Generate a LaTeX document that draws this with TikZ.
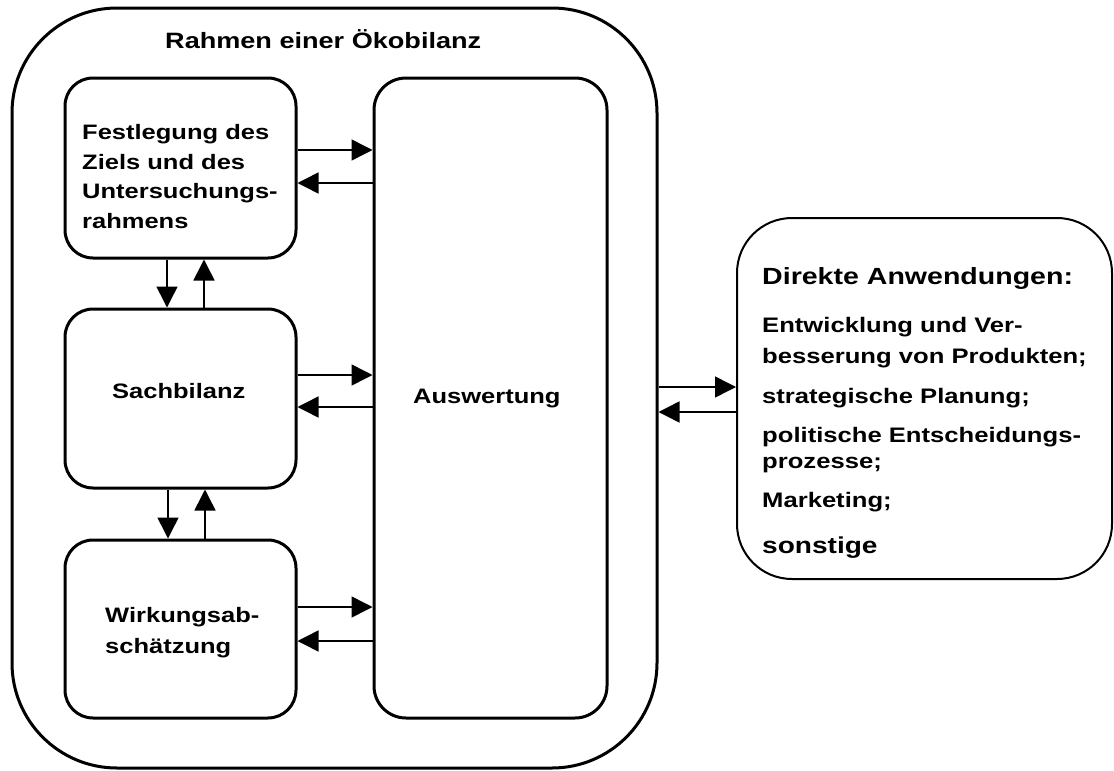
\documentclass[tikz,border=0pt]{standalone}
\usepackage{fontspec}
\setmainfont{Liberation Sans}[FakeStretch=1.22]
\usetikzlibrary{arrows.meta}
\tikzset{
	rahmenbox/.style={draw,line width=3pt,rounded corners=105pt,minimum width=645pt,minimum height=760pt,inner sep=0pt},
	stagebox/.style={draw,line width=3pt,rounded corners=28pt,minimum width=231pt,inner sep=0pt},
	appbox/.style={draw,line width=2pt,rounded corners=55pt,minimum width=375pt,minimum height=361pt,inner sep=0pt},
	boxtext/.style={inner sep=0pt,anchor=base west,align=left,font=\bfseries\fontsize{20.9}{29.5}\selectfont},
	apptext/.style={inner sep=0pt,anchor=base west,align=left,font=\bfseries\fontsize{21}{31}\selectfont},
	flow/.style={line width=1.5pt,-{Triangle[length=21pt,width=21pt]}}
}
\begin{document}
\begin{tikzpicture}[x=1pt,y=-1pt]
			\useasboundingbox (0,0) rectangle (1114,771);
			\node[rahmenbox] (rahmen) at (334.5,388) {};
			\node[inner sep=0pt,anchor=base west,font=\bfseries\fontsize{22.2}{26}\selectfont] (titel) at (165,48) {Rahmen einer Ökobilanz};
			\node[stagebox,minimum height=180pt] (ziel) at (180.5,168) {};
			\node[stagebox,minimum height=179pt] (sach) at (180.5,398.5) {};
			\node[stagebox,minimum height=178pt] (wirk) at (180.5,629) {};
			\node[stagebox,rounded corners=32pt,minimum width=233pt,minimum height=640pt] (aus) at (490.5,398) {};
			\node[appbox] (anw) at (924.5,398.5) {};
			% multi-line texts: base anchor sits on the last line
			\node[boxtext] (zieltext) at (82,228) {Festlegung des\\Ziels und des\\Untersuchungs-\\rahmens};
			\node[boxtext] (sachtext) at (112,398) {Sachbilanz};
			\node[boxtext,font=\bfseries\fontsize{20.9}{31}\selectfont] (wirktext) at (105,653) {Wirkungsab-\\schätzung};
			\node[boxtext] (austext) at (413,403) {Auswertung};
			\node[apptext,font=\bfseries\fontsize{23.4}{28}\selectfont] (anw1) at (762,284) {Direkte Anwendungen:};
			\node[apptext] (anw2) at (762,363) {Entwicklung und Ver-\\besserung von Produkten;};
			\node[apptext] (anw3) at (762,403) {strategische Planung;};
			\node[apptext,font=\bfseries\fontsize{21}{26}\selectfont] (anw4) at (762,468) {politische Entscheidungs-\\prozesse;};
			\node[apptext] (anw5) at (762,507) {Marketing;};
			\node[apptext,font=\bfseries\fontsize{23}{28}\selectfont] (anw6) at (762,553) {sonstige};
			\draw[flow] (ziel.east |- 0,150) -- (aus.west |- 0,150);
			\draw[flow] (aus.west |- 0,183) -- (ziel.east |- 0,183);
			\draw[flow] (sach.east |- 0,375) -- (aus.west |- 0,375);
			\draw[flow] (aus.west |- 0,407) -- (sach.east |- 0,407);
			\draw[flow] (wirk.east |- 0,607) -- (aus.west |- 0,607);
			\draw[flow] (aus.west |- 0,641) -- (wirk.east |- 0,641);
			\draw[flow] (ziel.south -| 167,0) -- (sach.north -| 167,0);
			\draw[flow] (sach.north -| 204,0) -- (ziel.south -| 204,0);
			\draw[flow] (sach.south -| 168,0) -- (wirk.north -| 168,0);
			\draw[flow] (wirk.north -| 205,0) -- (sach.south -| 205,0);
			\draw[flow] (rahmen.east |- 0,387) -- (anw.west |- 0,387);
			\draw[flow] (anw.west |- 0,412) -- (rahmen.east |- 0,412);
			\end{tikzpicture}
\end{document}
